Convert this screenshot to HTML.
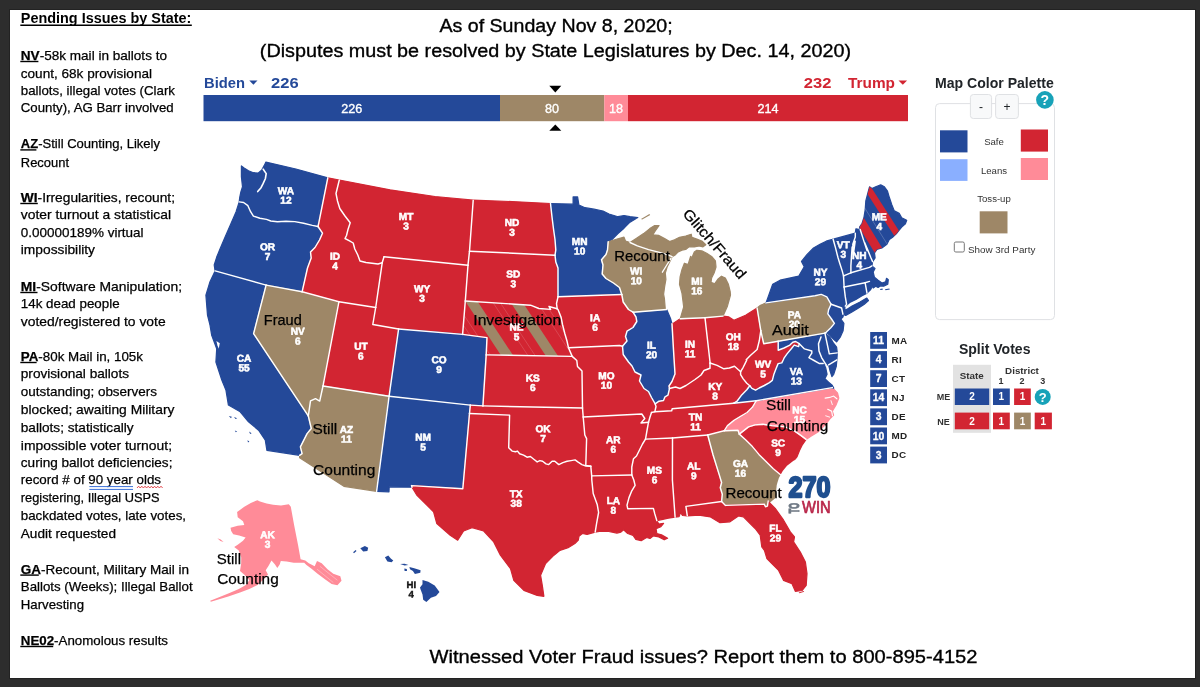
<!DOCTYPE html>
<html lang="en"><head><meta charset="utf-8"><title>Pending Issues by State</title>
<style>
html,body{margin:0;padding:0}
body{width:1200px;height:687px;background:#2d2d2d;overflow:hidden;position:relative;font-family:"Liberation Sans",sans-serif}
#slide{position:absolute;left:10px;top:10px;width:1185px;height:668px;background:#fff;box-shadow:0 0 0 1px #222}
svg{position:absolute;left:0;top:0;will-change:transform}
text{font-family:"Liberation Sans",sans-serif}
.b{font-weight:bold}
.lbl{font-weight:bold;font-size:10.1px;fill:#fff;text-anchor:middle;stroke:#fff;stroke-width:0.55px}
.ann{font-size:14.7px;fill:#000;stroke:#000;stroke-width:0.25px}
.body{font-size:13.2px;fill:#000;stroke:#000;stroke-width:0.25px}
.hd{font-size:18.8px;fill:#000;stroke:#000;stroke-width:0.35px}
</style></head><body>
<div id="slide"></div>
<svg width="1200" height="687" viewBox="0 0 1200 687">

<text x="20.8" y="23" class="b" font-size="14.3" textLength="170.6" lengthAdjust="spacingAndGlyphs">Pending Issues by State:</text>
<rect x="20.3" y="24.5" width="171.5" height="1.5" fill="#000"/>
<text x="20.8" y="60" class="body" textLength="146.2" lengthAdjust="spacingAndGlyphs"><tspan class="b">NV</tspan>-58k mail in ballots to</text>
<rect x="20.3" y="60.8" width="18.099999999999998" height="1.4" fill="#000"/>
<text x="20.8" y="78" class="body" textLength="131.2" lengthAdjust="spacingAndGlyphs">count, 68k provisional</text>
<text x="20.8" y="95" class="body" textLength="154.2" lengthAdjust="spacingAndGlyphs">ballots, illegal votes (Clark</text>
<text x="20.8" y="112.4" class="body" textLength="152.8" lengthAdjust="spacingAndGlyphs">County), AG Barr involved</text>
<text x="20.8" y="148.4" class="body" textLength="139.2" lengthAdjust="spacingAndGlyphs"><tspan class="b">AZ</tspan>-Still Counting, Likely</text>
<rect x="20.3" y="149.2" width="16.099999999999998" height="1.4" fill="#000"/>
<text x="20.8" y="166.6" class="body" textLength="48.2" lengthAdjust="spacingAndGlyphs">Recount</text>
<text x="20.8" y="202" class="body" textLength="154.2" lengthAdjust="spacingAndGlyphs"><tspan class="b">WI</tspan>-Irregularities, recount;</text>
<rect x="20.3" y="202.8" width="17.5" height="1.4" fill="#000"/>
<text x="20.8" y="219" class="body" textLength="150.2" lengthAdjust="spacingAndGlyphs">voter turnout a statistical</text>
<text x="20.8" y="237" class="body" textLength="122.8" lengthAdjust="spacingAndGlyphs">0.00000189% virtual</text>
<text x="20.8" y="254.4" class="body" textLength="74.2" lengthAdjust="spacingAndGlyphs">impossibility</text>
<text x="20.8" y="291" class="body" textLength="161.2" lengthAdjust="spacingAndGlyphs"><tspan class="b">MI</tspan>-Software Manipulation;</text>
<rect x="20.3" y="291.8" width="17.2" height="1.4" fill="#000"/>
<text x="20.8" y="308" class="body" textLength="98.8" lengthAdjust="spacingAndGlyphs">14k dead people</text>
<text x="20.8" y="325.6" class="body" textLength="144.8" lengthAdjust="spacingAndGlyphs">voted/registered to vote</text>
<text x="20.8" y="361" class="body" textLength="122.2" lengthAdjust="spacingAndGlyphs"><tspan class="b">PA</tspan>-80k Mail in, 105k</text>
<rect x="20.3" y="361.8" width="16.3" height="1.4" fill="#000"/>
<text x="20.8" y="378.4" class="body" textLength="108.2" lengthAdjust="spacingAndGlyphs">provisional ballots</text>
<text x="20.8" y="396" class="body" textLength="136.2" lengthAdjust="spacingAndGlyphs">outstanding; observers</text>
<text x="20.8" y="414" class="body" textLength="153.6" lengthAdjust="spacingAndGlyphs">blocked; awaiting Military</text>
<text x="20.8" y="432.4" class="body" textLength="112.8" lengthAdjust="spacingAndGlyphs">ballots; statistically</text>
<text x="20.8" y="450" class="body" textLength="151.2" lengthAdjust="spacingAndGlyphs">impossible voter turnout;</text>
<text x="20.8" y="467.4" class="body" textLength="151.6" lengthAdjust="spacingAndGlyphs">curing ballot deficiencies;</text>
<text x="20.8" y="484.4" class="body" textLength="140.2" lengthAdjust="spacingAndGlyphs">record # of 90 year olds</text>
<text x="20.8" y="502.4" class="body" textLength="138.8" lengthAdjust="spacingAndGlyphs">registering, Illegal USPS</text>
<text x="20.8" y="520" class="body" textLength="165.2" lengthAdjust="spacingAndGlyphs">backdated votes, late votes,</text>
<text x="20.8" y="538" class="body" textLength="95.2" lengthAdjust="spacingAndGlyphs">Audit requested</text>
<text x="20.8" y="573.6" class="body" textLength="168.2" lengthAdjust="spacingAndGlyphs"><tspan class="b">GA</tspan>-Recount, Military Mail in</text>
<rect x="20.3" y="574.4" width="18.5" height="1.4" fill="#000"/>
<text x="20.8" y="591.4" class="body" textLength="171.8" lengthAdjust="spacingAndGlyphs">Ballots (Weeks); Illegal Ballot</text>
<text x="20.8" y="609.4" class="body" textLength="63.2" lengthAdjust="spacingAndGlyphs">Harvesting</text>
<text x="20.8" y="645" class="body" textLength="147.2" lengthAdjust="spacingAndGlyphs"><tspan class="b">NE02</tspan>-Anomolous results</text>
<rect x="20.3" y="645.8" width="32.9" height="1.4" fill="#000"/>
<path d="M89.4 486.6H133M89.4 489.4H133" stroke="#3a6fd8" stroke-width="1" fill="none"/>
<path d="M137 488 l1.6 -1.8 l1.6 1.8 l1.6 -1.8 l1.6 1.8 l1.6 -1.8 l1.6 1.8 l1.6 -1.8 l1.6 1.8 l1.6 -1.8 l1.6 1.8 l1.6 -1.8 l1.6 1.8 l1.6 -1.8 l1.6 1.8 l1.6 -1.8 l1.6 1.8" stroke="#e0383e" stroke-width="0.9" fill="none"/>
<text x="439.4" y="32" class="hd" textLength="233.3" lengthAdjust="spacingAndGlyphs">As of Sunday Nov 8, 2020;</text>
<text x="259.8" y="56.7" class="hd" textLength="591.2" lengthAdjust="spacingAndGlyphs">(Disputes must be resolved by State Legislatures by Dec. 14, 2020)</text>
<text x="429.5" y="662.5" class="hd" textLength="548" lengthAdjust="spacingAndGlyphs">Witnessed Voter Fraud issues? Report them to 800-895-4152</text>
<g>
<rect x="203.5" y="95" width="296.5" height="26.2" fill="#244999"/>
<rect x="500" y="95" width="104.3" height="26.2" fill="#9E8767"/>
<rect x="604.3" y="95" width="23.7" height="26.2" fill="#FF8B98"/>
<rect x="628" y="95" width="280" height="26.2" fill="#D22532"/>
<text x="351.7" y="112.7" font-size="12.6" fill="#fff" stroke="#fff" stroke-width="0.35" text-anchor="middle">226</text>
<text x="552" y="112.7" font-size="12.6" fill="#fff" stroke="#fff" stroke-width="0.35" text-anchor="middle">80</text>
<text x="616" y="112.7" font-size="12.6" fill="#fff" stroke="#fff" stroke-width="0.35" text-anchor="middle">18</text>
<text x="768" y="112.7" font-size="12.6" fill="#fff" stroke="#fff" stroke-width="0.35" text-anchor="middle">214</text>
<path d="M549.3 85.8h12l-6 6.6z" fill="#000"/><path d="M549.3 130.8h12l-6 -6.4z" fill="#000"/>
<text x="204" y="88" class="b" font-size="14.8" fill="#244999" textLength="41" lengthAdjust="spacingAndGlyphs">Biden</text>
<path d="M249.3 80.4h8.2l-4.1 4.3z" fill="#244999"/>
<text x="271" y="88" class="b" font-size="14.8" fill="#244999" textLength="27.6" lengthAdjust="spacingAndGlyphs">226</text>
<text x="803.8" y="88" class="b" font-size="14.8" fill="#D22532" textLength="27.6" lengthAdjust="spacingAndGlyphs">232</text>
<text x="848" y="88" class="b" font-size="14.8" fill="#D22532" textLength="47" lengthAdjust="spacingAndGlyphs">Trump</text>
<path d="M898.5 80.4h8.6l-4.3 4.3z" fill="#D22532"/>
</g>
<g>
<text x="935" y="88" class="b" font-size="14.4" fill="#212529" textLength="118.8" lengthAdjust="spacingAndGlyphs">Map Color Palette</text>
<rect x="935.5" y="103.6" width="119" height="216" rx="4" fill="#fff" stroke="#dfe1e4" stroke-width="1"/>
<rect x="970.4" y="94.5" width="21.2" height="24" rx="3" fill="#f8f9fa" stroke="#dfe1e4" stroke-width="1"/>
<rect x="995.6" y="94.5" width="22.8" height="24" rx="3" fill="#f8f9fa" stroke="#dfe1e4" stroke-width="1"/>
<text x="981" y="111" font-size="12" fill="#212529" text-anchor="middle">-</text>
<text x="1007" y="111.3" font-size="12" fill="#212529" text-anchor="middle">+</text>
<circle cx="1044.9" cy="99.9" r="8.8" fill="#17a2b8"/>
<text x="1044.9" y="105" class="b" font-size="14" fill="#fff" text-anchor="middle">?</text>
<rect x="940" y="130.3" width="27.5" height="22.1" fill="#244999"/>
<rect x="1020.8" y="129.5" width="27.2" height="22.1" fill="#D22532"/>
<rect x="940" y="159.2" width="27.5" height="21.7" fill="#8AAFFF"/>
<rect x="1020.8" y="158" width="27.2" height="22" fill="#FF8B98"/>
<text x="994" y="145" font-size="9.6" fill="#333" text-anchor="middle">Safe</text>
<text x="994" y="173.8" font-size="9.6" fill="#333" text-anchor="middle">Leans</text>
<text x="994" y="202.4" font-size="9.6" fill="#333" text-anchor="middle">Toss-up</text>
<rect x="979.7" y="211.3" width="27.8" height="22.1" fill="#9E8767"/>
<rect x="954.3" y="242" width="10" height="10" rx="1.5" fill="#fff" stroke="#767676" stroke-width="1"/>
<text x="968" y="252.8" font-size="9.4" fill="#333" textLength="67.3" lengthAdjust="spacingAndGlyphs">Show 3rd Party</text>
</g>
<g>
<text x="958.9" y="354.1" class="b" font-size="14.4" fill="#212529" textLength="71.6" lengthAdjust="spacingAndGlyphs">Split Votes</text>
<rect x="953" y="364.8" width="38" height="68" fill="#e2e2e2"/>
<text x="971.7" y="378.8" class="b" font-size="9.8" fill="#333" text-anchor="middle">State</text>
<text x="1022" y="373.5" class="b" font-size="9.8" fill="#333" text-anchor="middle">District</text>
<text x="1001" y="383.8" class="b" font-size="9" fill="#333" text-anchor="middle">1</text>
<text x="1022" y="383.8" class="b" font-size="9" fill="#333" text-anchor="middle">2</text>
<text x="1042.7" y="383.8" class="b" font-size="9" fill="#333" text-anchor="middle">3</text>
<text x="943.5" y="400.4" class="b" font-size="9" fill="#333" text-anchor="middle">ME</text>
<text x="943.5" y="424.7" class="b" font-size="9" fill="#333" text-anchor="middle">NE</text>
<rect x="954.8" y="388.5" width="34.4" height="16.5" fill="#244999"/>
<text x="972.0" y="400.4" class="b" font-size="10" fill="#fff" text-anchor="middle">2</text>
<rect x="993" y="388.5" width="16.8" height="16.5" fill="#244999"/>
<text x="1001.4" y="400.4" class="b" font-size="10" fill="#fff" text-anchor="middle">1</text>
<rect x="1014.1" y="388.5" width="16.7" height="16.5" fill="#D22532"/>
<text x="1022.5" y="400.4" class="b" font-size="10" fill="#fff" text-anchor="middle">1</text>
<circle cx="1042.7" cy="396.9" r="8" fill="#17a2b8"/><text x="1042.7" y="401.6" class="b" font-size="13" fill="#fff" text-anchor="middle">?</text>
<rect x="954.8" y="412.6" width="34.4" height="16.7" fill="#D22532"/>
<text x="972.0" y="424.6" class="b" font-size="10" fill="#fff" text-anchor="middle">2</text>
<rect x="993" y="412.6" width="16.8" height="16.7" fill="#D22532"/>
<text x="1001.4" y="424.6" class="b" font-size="10" fill="#fff" text-anchor="middle">1</text>
<rect x="1014.1" y="412.6" width="16.7" height="16.7" fill="#9E8767"/>
<text x="1022.5" y="424.6" class="b" font-size="10" fill="#fff" text-anchor="middle">1</text>
<rect x="1034.7" y="412.6" width="17.2" height="16.7" fill="#D22532"/>
<text x="1043.3" y="424.6" class="b" font-size="10" fill="#fff" text-anchor="middle">1</text>
</g>
<g>
<rect x="870.2" y="332.0" width="16.8" height="16.8" fill="#244999"/>
<text x="878.6" y="344.0" class="b" font-size="10.4" fill="#fff" stroke="#fff" stroke-width="0.3" text-anchor="middle">11</text>
<text x="891.5" y="343.8" class="b" font-size="9.9" fill="#222" letter-spacing="0.3">MA</text>
<rect x="870.2" y="351.1" width="16.8" height="16.8" fill="#244999"/>
<text x="878.6" y="363.1" class="b" font-size="10.4" fill="#fff" stroke="#fff" stroke-width="0.3" text-anchor="middle">4</text>
<text x="891.5" y="362.9" class="b" font-size="9.9" fill="#222" letter-spacing="0.3">RI</text>
<rect x="870.2" y="370.2" width="16.8" height="16.8" fill="#244999"/>
<text x="878.6" y="382.2" class="b" font-size="10.4" fill="#fff" stroke="#fff" stroke-width="0.3" text-anchor="middle">7</text>
<text x="891.5" y="382.0" class="b" font-size="9.9" fill="#222" letter-spacing="0.3">CT</text>
<rect x="870.2" y="389.3" width="16.8" height="16.8" fill="#244999"/>
<text x="878.6" y="401.3" class="b" font-size="10.4" fill="#fff" stroke="#fff" stroke-width="0.3" text-anchor="middle">14</text>
<text x="891.5" y="401.1" class="b" font-size="9.9" fill="#222" letter-spacing="0.3">NJ</text>
<rect x="870.2" y="408.4" width="16.8" height="16.8" fill="#244999"/>
<text x="878.6" y="420.4" class="b" font-size="10.4" fill="#fff" stroke="#fff" stroke-width="0.3" text-anchor="middle">3</text>
<text x="891.5" y="420.2" class="b" font-size="9.9" fill="#222" letter-spacing="0.3">DE</text>
<rect x="870.2" y="427.5" width="16.8" height="16.8" fill="#244999"/>
<text x="878.6" y="439.5" class="b" font-size="10.4" fill="#fff" stroke="#fff" stroke-width="0.3" text-anchor="middle">10</text>
<text x="891.5" y="439.3" class="b" font-size="9.9" fill="#222" letter-spacing="0.3">MD</text>
<rect x="870.2" y="446.6" width="16.8" height="16.8" fill="#244999"/>
<text x="878.6" y="458.6" class="b" font-size="10.4" fill="#fff" stroke="#fff" stroke-width="0.3" text-anchor="middle">3</text>
<text x="891.5" y="458.4" class="b" font-size="9.9" fill="#222" letter-spacing="0.3">DC</text>
</g>
<defs>
<clipPath id="clipNE"><path d="M465.3 301.0 L530.5 305.2 L538.9 308.5 L550.6 309.4 L549.0 306.5 L557.2 308.8 L558.0 309.5 L561.0 317.0 L562.5 324.5 L564.8 333.5 L567.0 341.0 L568.5 347.8 L572.2 356.4 L486.2 354.9 L487.0 337.6 L462.6 334.4 L465.3 301.0Z"/></clipPath>
<clipPath id="clipME"><path d="M860.2 229.5 L859.6 227.0 L862.1 223.3 L864.0 217.1 L865.2 209.7 L865.8 201.0 L867.7 193.6 L869.5 186.8 L872.0 188.6 L875.7 186.8 L880.7 184.9 L884.4 186.8 L887.5 191.1 L889.3 197.3 L891.8 204.7 L894.3 210.9 L899.2 213.4 L901.7 217.7 L906.7 220.2 L905.4 223.9 L901.7 227.0 L899.2 230.1 L896.8 233.2 L893.0 236.9 L889.3 239.4 L886.9 244.3 L881.9 248.0 L876.9 249.3 L874.5 253.0 L875.1 257.9 L872.6 261.6 L870.7 257.3 L868.2 251.1 L864.5 242.4 L867.0 250.5 L863.3 239.4 L860.2 229.5Z"/></clipPath>
</defs>
<g stroke-width="1.2" stroke-linejoin="round">
<path d="M239.2 201.9 L239.7 197.6 L240.8 192.1 L242.5 186.7 L241.4 176.8 L241.4 165.9 L244.1 167.9 L248.5 170.8 L253.4 172.7 L258.3 173.0 L261.6 170.3 L264.3 165.4 L265.9 162.1 L295.9 169.0 L327.8 177.8 L318.8 222.8 L318.0 226.5 L312.3 225.4 L303.6 223.2 L294.8 221.6 L286.1 221.3 L277.4 221.8 L270.8 221.0 L266.5 219.4 L259.9 218.3 L253.4 216.1 L250.6 211.7 L247.9 205.7 L243.6 202.5 L239.2 201.9Z" fill="#244999" stroke="#244999"/>
<path d="M239.2 201.9 L243.6 202.5 L247.9 205.7 L250.6 211.7 L253.4 216.1 L259.9 218.3 L266.5 219.4 L270.8 221.0 L277.4 221.8 L286.1 221.3 L294.8 221.6 L303.6 223.2 L312.3 225.4 L318.0 226.5 L322.5 233.2 L319.5 240.0 L315.0 247.5 L310.5 252.0 L311.2 258.0 L307.5 268.0 L302.1 291.8 L266.1 285.1 L215.1 270.9 L214.2 265.0 L216.7 257.1 L220.1 248.7 L225.1 237.0 L231.0 223.6 L236.0 211.9 L239.2 201.9Z" fill="#244999" stroke="#244999"/>
<path d="M215.1 270.9 L266.1 285.1 L253.6 333.6 L308.3 415.8 L309.1 419.3 L311.3 428.5 L307.1 433.6 L303.8 440.2 L300.4 446.9 L302.1 453.6 L299.6 455.3 L266.9 450.3 L265.3 440.2 L258.6 430.2 L248.5 421.8 L240.2 411.8 L228.4 405.1 L225.9 390.0 L221.8 380.0 L215.9 362.1 L216.7 348.7 L211.7 335.3 L210.0 325.2 L207.5 315.2 L206.7 305.2 L205.9 295.1 L210.0 281.7 L215.1 270.9Z" fill="#244999" stroke="#244999"/>
<path d="M266.1 285.1 L302.1 291.8 L338.9 301.8 L323.0 386.0 L319.7 401.1 L315.5 398.7 L310.5 400.9 L308.3 415.8 L253.6 333.6 L266.1 285.1Z" fill="#9E8767" stroke="#9E8767"/>
<path d="M327.8 177.8 L339.3 180.0 L336.0 193.5 L337.5 201.0 L339.8 208.5 L345.0 216.0 L350.2 222.8 L348.0 229.5 L346.5 235.5 L345.0 238.5 L349.5 240.8 L353.2 243.0 L354.8 249.0 L357.8 255.0 L360.0 261.0 L366.0 262.5 L372.0 263.2 L378.0 264.0 L382.2 262.8 L375.7 307.5 L338.9 301.8 L302.1 291.8 L307.5 268.0 L311.2 258.0 L310.5 252.0 L315.0 247.5 L319.5 240.0 L322.5 233.2 L318.0 226.5 L318.8 222.8 L327.8 177.8Z" fill="#D22532" stroke="#D22532"/>
<path d="M339.3 180.0 L390.0 189.8 L435.0 196.5 L473.2 200.2 L469.5 251.2 L468.0 265.2 L384.0 256.8 L382.2 262.8 L378.0 264.0 L372.0 263.2 L366.0 262.5 L360.0 261.0 L357.8 255.0 L354.8 249.0 L353.2 243.0 L349.5 240.8 L345.0 238.5 L346.5 235.5 L348.0 229.5 L350.2 222.8 L345.0 216.0 L339.8 208.5 L337.5 201.0 L336.0 193.5 L339.3 180.0Z" fill="#D22532" stroke="#D22532"/>
<path d="M384.0 256.8 L468.0 265.2 L465.3 301.0 L462.6 334.4 L398.6 329.0 L372.8 324.5 L375.7 307.5 L382.2 262.8 L384.0 256.8Z" fill="#D22532" stroke="#D22532"/>
<path d="M338.9 301.8 L375.7 307.5 L372.8 324.5 L398.6 329.0 L389.1 396.2 L323.0 386.0 L338.9 301.8Z" fill="#D22532" stroke="#D22532"/>
<path d="M398.6 329.0 L462.6 334.4 L487.0 337.6 L486.2 354.9 L482.9 405.9 L470.3 405.1 L389.1 396.2 L398.6 329.0Z" fill="#244999" stroke="#244999"/>
<path d="M323.0 386.0 L389.1 396.2 L376.6 491.3 L343.9 486.3 L299.6 457.8 L299.6 455.3 L302.1 453.6 L300.4 446.9 L303.8 440.2 L307.1 433.6 L311.3 428.5 L309.1 419.3 L308.3 415.8 L310.5 400.9 L315.5 398.7 L319.7 401.1 L323.0 386.0Z" fill="#9E8767" stroke="#9E8767"/>
<path d="M389.1 396.2 L470.3 405.1 L469.5 413.5 L462.8 488.8 L411.5 485.6 L412.0 487.2 L389.2 486.8 L389.0 491.8 L376.6 491.3 L389.1 396.2Z" fill="#244999" stroke="#244999"/>
<path d="M473.2 200.2 L512.1 201.6 L550.5 203.5 L552.0 217.0 L553.5 229.0 L555.0 239.5 L555.8 250.0 L555.0 255.2 L469.5 251.2 L473.2 200.2Z" fill="#D22532" stroke="#D22532"/>
<path d="M469.5 251.2 L555.0 255.2 L555.8 262.0 L558.0 268.0 L558.0 293.0 L558.0 296.8 L556.5 303.5 L557.2 308.8 L549.0 306.5 L550.6 309.4 L538.9 308.5 L530.5 305.2 L465.3 301.0 L468.0 265.2 L469.5 251.2Z" fill="#D22532" stroke="#D22532"/>
<path d="M465.3 301.0 L530.5 305.2 L538.9 308.5 L550.6 309.4 L549.0 306.5 L557.2 308.8 L558.0 309.5 L561.0 317.0 L562.5 324.5 L564.8 333.5 L567.0 341.0 L568.5 347.8 L572.2 356.4 L486.2 354.9 L487.0 337.6 L462.6 334.4 L465.3 301.0Z" fill="#D22532" stroke="#D22532"/>
<path d="M486.2 354.9 L572.2 356.4 L576.8 360.5 L577.5 366.5 L582.0 371.0 L582.5 408.0 L482.9 405.9 L486.2 354.9Z" fill="#D22532" stroke="#D22532"/>
<path d="M482.9 405.9 L582.5 408.0 L583.2 417.0 L584.8 435.0 L586.6 438.6 L585.8 465.4 L590.8 466.2 L585.9 466.0 L581.9 464.6 L577.8 461.9 L575.1 459.9 L571.0 460.6 L567.0 461.2 L562.9 462.6 L558.8 464.6 L554.8 461.2 L552.1 461.2 L548.7 464.6 L546.0 463.9 L542.6 461.2 L539.9 460.6 L537.2 461.9 L533.8 459.2 L530.4 456.5 L527.0 457.2 L523.6 455.1 L519.6 453.8 L517.5 451.1 L515.5 451.8 L512.1 451.1 L508.7 447.7 L509.6 415.1 L469.5 413.5 L470.3 405.1 L482.9 405.9Z" fill="#D22532" stroke="#D22532"/>
<path d="M469.5 413.5 L509.6 415.1 L508.7 447.7 L512.1 451.1 L515.5 451.8 L517.5 451.1 L519.6 453.8 L523.6 455.1 L527.0 457.2 L530.4 456.5 L533.8 459.2 L537.2 461.9 L539.9 460.6 L542.6 461.2 L546.0 463.9 L548.7 464.6 L552.1 461.2 L554.8 461.2 L558.8 464.6 L562.9 462.6 L567.0 461.2 L571.0 460.6 L575.1 459.9 L577.8 461.9 L581.9 464.6 L585.9 466.0 L590.8 466.2 L591.7 475.9 L591.8 480.0 L593.2 493.5 L597.2 504.4 L598.6 512.5 L596.6 523.3 L595.2 532.1 L587.1 534.4 L582.3 533.5 L579.0 536.2 L578.3 540.2 L574.9 543.6 L568.1 547.7 L560.0 550.4 L554.0 555.2 L545.6 563.6 L540.6 575.3 L542.3 585.4 L543.9 596.3 L537.2 595.4 L523.9 590.4 L513.8 580.4 L510.5 568.6 L500.4 555.2 L493.7 541.9 L483.7 531.0 L472.0 527.6 L463.6 531.0 L457.7 540.2 L450.2 535.2 L436.8 523.5 L433.5 511.7 L416.7 495.0 L412.0 487.2 L411.5 485.6 L462.8 488.8 L469.5 413.5Z" fill="#D22532" stroke="#D22532"/>
<path d="M550.5 203.5 L573.1 204.2 L573.1 196.9 L577.6 196.9 L578.9 205.0 L585.0 207.7 L594.0 209.2 L603.0 211.0 L609.0 214.0 L618.0 216.7 L624.0 215.5 L630.0 216.7 L637.8 217.6 L630.0 222.2 L624.0 228.2 L618.0 233.5 L612.0 239.5 L608.2 241.8 L607.5 250.0 L606.0 254.5 L601.5 259.8 L603.0 265.0 L602.2 274.0 L606.0 278.5 L613.5 283.0 L619.5 287.5 L621.8 294.5 L558.0 296.8 L558.0 293.0 L558.0 268.0 L555.8 262.0 L555.0 255.2 L555.8 250.0 L555.0 239.5 L553.5 229.0 L552.0 217.0 L550.5 203.5Z" fill="#244999" stroke="#244999"/>
<path d="M558.0 296.8 L621.8 294.5 L623.2 302.0 L628.5 309.5 L633.0 312.2 L636.0 317.0 L636.8 321.5 L633.0 327.5 L627.0 331.2 L625.5 336.5 L627.0 341.0 L622.5 346.2 L619.5 345.5 L568.5 347.8 L567.0 341.0 L564.8 333.5 L562.5 324.5 L561.0 317.0 L558.0 309.5 L557.2 308.8 L556.5 303.5 L558.0 296.8Z" fill="#D22532" stroke="#D22532"/>
<path d="M568.5 347.8 L619.5 345.5 L622.5 346.2 L623.2 354.5 L628.5 362.0 L632.0 366.0 L635.0 372.0 L641.0 375.0 L639.5 381.0 L644.0 388.5 L648.5 391.5 L651.5 397.5 L655.2 403.9 L656.0 406.5 L654.8 411.8 L651.5 412.5 L650.0 417.0 L648.5 422.2 L641.0 423.0 L644.8 418.5 L641.8 414.0 L583.2 417.0 L582.5 408.0 L582.0 371.0 L577.5 366.5 L576.8 360.5 L572.2 356.4 L568.5 347.8Z" fill="#D22532" stroke="#D22532"/>
<path d="M583.2 417.0 L641.8 414.0 L644.8 418.5 L641.0 423.0 L648.5 422.2 L647.0 430.5 L645.5 439.1 L642.5 444.0 L639.5 450.0 L636.5 456.0 L633.5 458.7 L631.8 467.0 L631.8 475.0 L591.7 475.9 L590.8 466.2 L585.8 465.4 L586.6 438.6 L584.8 435.0 L583.2 417.0Z" fill="#D22532" stroke="#D22532"/>
<path d="M591.7 475.9 L631.8 475.0 L633.8 480.0 L635.1 485.4 L631.8 490.8 L629.0 497.6 L627.0 505.1 L627.7 508.7 L653.4 508.4 L654.8 513.9 L656.8 520.6 L658.8 524.0 L663.6 523.3 L660.9 526.7 L656.1 528.7 L656.8 533.5 L661.5 534.8 L667.6 538.2 L664.2 539.8 L658.8 536.9 L653.4 535.8 L650.0 538.5 L646.6 537.5 L641.2 540.7 L635.8 539.3 L633.1 535.5 L627.7 533.5 L623.6 529.8 L620.9 532.1 L616.9 533.1 L608.7 531.5 L600.6 531.2 L595.2 532.1 L596.6 523.3 L598.6 512.5 L597.2 504.4 L593.2 493.5 L591.8 480.0 L591.7 475.9Z" fill="#D22532" stroke="#D22532"/>
<path d="M645.5 439.1 L672.5 438.0 L672.4 480.0 L675.1 517.2 L668.3 518.2 L662.9 519.3 L656.8 520.6 L654.8 513.9 L653.4 508.4 L627.7 508.7 L627.0 505.1 L629.0 497.6 L631.8 490.8 L635.1 485.4 L633.8 480.0 L631.8 475.0 L631.8 467.0 L633.5 458.7 L636.5 456.0 L639.5 450.0 L642.5 444.0 L645.5 439.1Z" fill="#D22532" stroke="#D22532"/>
<path d="M672.5 438.0 L707.7 435.0 L713.1 455.0 L719.6 475.9 L721.6 482.5 L720.3 487.7 L722.3 494.3 L721.6 501.5 L685.9 506.4 L687.3 515.9 L682.5 515.5 L680.5 512.5 L679.1 516.6 L675.1 517.2 L672.4 480.0 L672.5 438.0Z" fill="#D22532" stroke="#D22532"/>
<path d="M707.7 435.0 L724.2 430.8 L738.0 430.2 L739.3 434.1 L745.8 440.0 L752.4 446.6 L758.9 454.4 L765.5 461.0 L773.3 468.8 L780.5 474.8 L780.3 480.0 L778.5 489.0 L774.5 498.0 L768.5 503.0 L768.2 501.0 L768.1 501.5 L767.4 506.1 L765.5 506.7 L764.2 504.1 L725.5 505.4 L721.6 501.5 L722.3 494.3 L720.3 487.7 L721.6 482.5 L719.6 475.9 L713.1 455.0 L707.7 435.0Z" fill="#9E8767" stroke="#9E8767"/>
<path d="M721.6 501.5 L725.5 505.4 L764.2 504.1 L765.5 506.7 L767.4 506.1 L768.1 501.5 L768.2 501.0 L768.5 501.8 L775.2 508.4 L783.6 520.2 L790.3 531.9 L794.5 536.9 L793.6 541.9 L800.3 552.0 L805.4 562.0 L807.0 573.7 L806.2 585.4 L802.0 590.5 L795.3 591.3 L792.0 583.8 L783.6 580.4 L778.6 570.4 L773.6 565.4 L766.9 558.7 L764.4 550.3 L761.8 547.0 L760.2 535.2 L755.1 528.5 L750.1 523.5 L743.4 516.8 L738.4 516.0 L730.0 521.8 L720.0 522.7 L710.5 516.9 L698.8 515.2 L687.3 515.9 L685.9 506.4 L721.6 501.5Z" fill="#D22532" stroke="#D22532"/>
<path d="M739.3 434.1 L748.5 426.9 L755.0 424.9 L762.9 424.3 L772.0 425.6 L785.1 426.9 L794.3 430.8 L800.8 435.4 L806.1 439.4 L802.1 445.2 L799.5 450.5 L796.9 457.0 L791.7 463.6 L786.4 470.1 L780.5 474.8 L773.3 468.8 L765.5 461.0 L758.9 454.4 L752.4 446.6 L745.8 440.0 L739.3 434.1Z" fill="#D22532" stroke="#D22532"/>
<path d="M756.3 400.7 L752.4 407.3 L747.1 412.5 L740.6 416.4 L734.0 420.4 L727.5 425.6 L724.2 430.8 L756.3 400.7 L832.3 387.6 L837.5 392.9 L838.8 398.1 L836.2 404.6 L832.3 411.2 L833.6 415.1 L829.6 419.1 L825.7 424.3 L817.9 432.1 L811.3 436.1 L806.1 439.4 L800.8 435.4 L794.3 430.8 L785.1 426.9 L772.0 425.6 L762.9 424.3 L755.0 424.9 L748.5 426.9 L739.3 434.1 L738.0 430.2 L724.2 430.8Z" fill="#FF8B98" stroke="#FF8B98"/>
<path d="M654.8 411.8 L671.7 410.7 L672.2 408.8 L733.7 403.3 L756.3 400.7 L752.4 407.3 L747.1 412.5 L740.6 416.4 L734.0 420.4 L727.5 425.6 L724.2 430.8 L707.7 435.0 L672.5 438.0 L645.5 439.1 L647.0 430.5 L648.5 422.2 L650.0 417.0 L651.5 412.5Z" fill="#D22532" stroke="#D22532"/>
<path d="M655.2 403.9 L659.0 401.2 L663.5 400.5 L665.0 396.8 L668.0 395.2 L669.5 388.5 L675.5 387.0 L680.0 388.5 L686.0 385.5 L690.5 382.5 L695.0 379.5 L701.0 375.0 L704.0 370.5 L710.0 368.2 L710.0 363.0 L717.1 365.4 L723.9 368.8 L729.4 368.0 L734.5 366.2 L738.1 369.5 L740.6 371.6 L740.6 374.6 L743.2 378.9 L746.8 383.3 L749.8 385.8 L746.8 389.8 L741.7 394.9 L737.4 400.8 L733.7 403.3 L672.2 408.8 L671.7 410.7 L654.8 411.8 L651.5 412.5 L654.8 411.8 L656.0 406.5 L655.2 403.9Z" fill="#D22532" stroke="#D22532"/>
<path d="M633.0 312.2 L666.7 309.5 L670.5 318.5 L672.0 323.8 L673.5 350.0 L675.0 374.0 L672.0 381.5 L669.0 386.0 L669.5 388.5 L668.0 395.2 L665.0 396.8 L663.5 400.5 L659.0 401.2 L655.2 403.9 L651.5 397.5 L648.5 391.5 L644.0 388.5 L639.5 381.0 L641.0 375.0 L635.0 372.0 L632.0 366.0 L628.5 362.0 L623.2 354.5 L622.5 346.2 L627.0 341.0 L625.5 336.5 L627.0 331.2 L633.0 327.5 L636.8 321.5 L636.0 317.0 L633.0 312.2Z" fill="#244999" stroke="#244999"/>
<path d="M672.0 323.8 L674.2 322.7 L680.2 318.8 L705.0 317.8 L710.2 363.5 L710.0 363.0 L710.0 368.2 L704.0 370.5 L701.0 375.0 L695.0 379.5 L690.5 382.5 L686.0 385.5 L680.0 388.5 L675.5 387.0 L669.5 388.5 L669.0 386.0 L672.0 381.5 L675.0 374.0 L673.5 350.0 L672.0 323.8Z" fill="#D22532" stroke="#D22532"/>
<path d="M705.0 317.8 L723.0 316.1 L728.9 316.9 L733.9 320.2 L745.6 315.2 L757.1 308.0 L760.8 330.6 L759.3 340.8 L757.1 349.5 L750.6 355.3 L746.2 359.7 L746.8 360.0 L745.4 362.9 L743.2 367.3 L740.6 371.6 L738.1 369.5 L734.5 366.2 L729.4 368.0 L723.9 368.8 L717.1 365.4 L710.0 363.0 L710.2 363.5 L705.0 317.8Z" fill="#D22532" stroke="#D22532"/>
<path d="M760.8 330.6 L763.7 343.7 L778.2 341.2 L778.2 344.4 L778.2 350.2 L784.0 348.0 L789.9 345.1 L792.8 342.2 L795.7 341.5 L799.3 343.7 L798.6 346.6 L794.2 345.1 L791.3 348.8 L787.0 353.9 L784.0 358.2 L783.2 360.0 L781.8 362.9 L778.1 363.6 L776.0 368.7 L773.8 374.6 L772.3 380.4 L769.4 382.6 L764.3 385.5 L759.2 388.0 L755.6 390.2 L751.9 388.4 L749.8 385.8 L746.8 383.3 L743.2 378.9 L740.6 374.6 L740.6 371.6 L743.2 367.3 L745.4 362.9 L746.8 360.0 L746.2 359.7 L750.6 355.3 L757.1 349.5 L759.3 340.8 L760.8 330.6Z" fill="#D22532" stroke="#D22532"/>
<path d="M799.3 343.7 L804.5 348.9 L811.8 351.0 L811.8 353.2 L808.9 357.6 L814.0 360.5 L819.1 363.4 L823.2 363.4 L824.2 364.9 L825.7 367.8 L827.1 374.3 L824.9 378.7 L828.6 382.3 L832.2 385.2 L833.7 388.1 L832.3 387.6 L756.3 400.7 L733.7 403.3 L737.4 400.8 L741.7 394.9 L746.8 389.8 L749.8 385.8 L751.9 388.4 L755.6 390.2 L759.2 388.0 L764.3 385.5 L769.4 382.6 L772.3 380.4 L773.8 374.6 L776.0 368.7 L778.1 363.6 L781.8 362.9 L783.2 360.0 L784.0 358.2 L787.0 353.9 L791.3 348.8 L794.2 345.1 L798.6 346.6 L799.3 343.7Z" fill="#244999" stroke="#244999"/>
<path d="M828.6 364.9 L836.9 359.8 L836.3 366.3 L833.7 374.3 L831.9 376.5 L830.0 370.7Z" fill="#244999" stroke="#244999"/>
<path d="M778.2 341.2 L824.9 333.1 L829.3 353.9 L837.3 352.9 L836.9 359.8 L828.6 364.9 L826.4 364.9 L823.2 363.4 L819.1 363.4 L814.0 360.5 L808.9 357.6 L811.8 353.2 L811.8 351.0 L804.5 348.9 L799.3 343.7 L795.7 341.5 L792.8 342.2 L789.9 345.1 L784.0 348.0 L778.2 350.2 L778.2 344.4 L778.2 341.2Z" fill="#244999" stroke="#244999"/>
<path d="M824.9 333.1 L830.0 337.2 L833.7 343.5 L836.6 347.1 L837.3 352.9 L829.3 353.9 L824.9 333.1Z" fill="#244999" stroke="#244999"/>
<path d="M757.1 308.0 L760.0 305.6 L766.0 302.9 L815.0 295.7 L821.2 294.4 L826.8 296.9 L831.1 304.3 L828.6 309.6 L827.8 313.9 L831.5 319.0 L834.4 323.4 L830.8 327.8 L826.4 332.1 L824.9 333.1 L778.2 341.2 L763.7 343.7 L760.8 330.6 L757.1 308.0Z" fill="#9E8767" stroke="#9E8767"/>
<path d="M831.1 304.3 L841.6 308.0 L842.9 314.2 L843.9 309.6 L843.1 316.8 L840.9 319.0 L843.9 323.4 L843.1 330.7 L840.2 337.2 L836.6 341.9 L833.7 339.4 L830.0 335.5 L826.7 332.6 L824.9 333.1 L826.4 332.1 L830.8 327.8 L834.4 323.4 L831.5 319.0 L827.8 313.9 L828.6 309.6 L831.1 304.3Z" fill="#244999" stroke="#244999"/>
<path d="M766.0 302.9 L772.7 284.2 L780.1 280.2 L798.8 276.1 L804.2 266.8 L801.5 261.4 L806.9 254.7 L813.5 248.0 L820.0 244.3 L826.2 241.2 L832.4 239.4 L833.0 238.7 L835.4 247.4 L837.9 257.3 L839.8 263.5 L842.2 270.9 L843.5 275.9 L844.1 287.0 L845.3 296.9 L846.6 304.3 L845.3 306.2 L844.5 309.0 L846.7 309.5 L852.1 306.1 L859.6 302.2 L866.8 298.1 L868.5 300.6 L864.0 304.6 L857.7 308.5 L851.5 312.2 L845.7 315.5 L842.9 314.2 L841.6 308.0 L831.1 304.3 L826.8 296.9 L821.2 294.4 L815.0 295.7 L766.0 302.9Z" fill="#244999" stroke="#244999"/>
<path d="M832.4 239.4 L855.3 233.2 L855.3 236.9 L852.8 244.3 L853.4 254.2 L855.2 241.2 L852.1 247.4 L851.5 256.0 L850.9 265.9 L850.9 272.8 L843.5 275.9 L842.2 270.9 L839.8 263.5 L837.9 257.3 L835.4 247.4 L833.0 238.7Z" fill="#244999" stroke="#244999"/>
<path d="M855.3 233.2 L855.9 228.8 L860.2 229.5 L863.3 239.4 L867.0 250.5 L864.5 242.4 L868.2 251.1 L870.7 257.3 L872.6 261.6 L871.9 265.9 L869.5 267.4 L850.9 272.8 L850.9 265.9 L851.5 256.0 L852.1 247.4 L855.2 241.2 L853.4 254.2 L852.8 244.3 L855.3 236.9 L855.3 233.2Z" fill="#244999" stroke="#244999"/>
<path d="M860.2 229.5 L859.6 227.0 L862.1 223.3 L864.0 217.1 L865.2 209.7 L865.8 201.0 L867.7 193.6 L869.5 186.8 L872.0 188.6 L875.7 186.8 L880.7 184.9 L884.4 186.8 L887.5 191.1 L889.3 197.3 L891.8 204.7 L894.3 210.9 L899.2 213.4 L901.7 217.7 L906.7 220.2 L905.4 223.9 L901.7 227.0 L899.2 230.1 L896.8 233.2 L893.0 236.9 L889.3 239.4 L886.9 244.3 L881.9 248.0 L876.9 249.3 L874.5 253.0 L875.1 257.9 L872.6 261.6 L870.7 257.3 L868.2 251.1 L864.5 242.4 L867.0 250.5 L863.3 239.4 L860.2 229.5Z" fill="#244999" stroke="#244999"/>
<path d="M843.5 275.9 L850.9 272.8 L869.5 267.4 L871.9 265.9 L875.0 268.4 L873.2 272.1 L874.4 277.1 L878.1 280.2 L881.9 283.0 L885.6 281.8 L886.5 278.3 L888.3 279.8 L887.8 284.3 L883.7 286.2 L880.6 285.8 L878.1 287.5 L875.7 286.2 L873.2 288.0 L869.5 281.4 L865.1 282.7 L844.1 287.0 L843.5 275.9Z" fill="#244999" stroke="#244999"/>
<path d="M844.1 287.0 L865.1 282.7 L867.0 293.2 L862.0 295.7 L855.9 299.4 L849.7 302.5 L845.3 306.2 L846.6 304.3 L845.3 296.9 L844.1 287.0Z" fill="#244999" stroke="#244999"/>
<path d="M865.1 282.7 L869.5 281.4 L871.9 287.0 L870.7 289.5 L867.0 293.2 L865.1 282.7Z" fill="#244999" stroke="#244999"/>
<path d="M608.2 241.8 L618.0 238.8 L624.0 237.2 L625.5 241.0 L630.0 242.5 L637.4 245.9 L648.6 249.6 L658.5 252.1 L667.1 254.6 L672.1 256.7 L669.6 262.0 L667.1 267.0 L665.3 273.1 L665.9 279.3 L664.6 286.8 L663.6 294.2 L664.4 298.5 L665.3 309.4 L666.7 309.5 L633.0 312.2 L628.5 309.5 L623.2 302.0 L621.8 294.5 L619.5 287.5 L613.5 283.0 L606.0 278.5 L602.2 274.0 L603.0 265.0 L601.5 259.8 L606.0 254.5 L607.5 250.0 L608.2 241.8Z" fill="#9E8767" stroke="#9E8767"/>
<path d="M630.0 242.5 L636.2 238.5 L643.6 233.6 L649.8 228.6 L654.7 225.5 L659.1 225.5 L656.0 229.8 L652.9 234.8 L658.5 235.4 L664.6 238.5 L669.6 241.6 L674.5 239.7 L679.5 237.3 L685.7 236.0 L691.2 234.2 L691.9 237.3 L696.8 239.1 L701.8 241.0 L705.8 244.7 L703.0 246.9 L699.3 245.9 L694.3 246.9 L689.4 246.6 L685.7 249.4 L682.0 250.1 L678.2 251.9 L674.8 255.3 L672.1 256.7 L667.1 254.6 L658.5 252.1 L648.6 249.6 L637.4 245.9Z" fill="#9E8767" stroke="#9E8767"/>
<path d="M680.2 318.8 L683.7 306.8 L682.0 293.4 L679.5 284.3 L680.1 276.9 L682.0 269.4 L684.4 263.2 L688.1 264.5 L690.6 256.4 L691.9 257.7 L694.3 252.1 L696.8 250.3 L701.8 250.9 L706.7 253.3 L711.6 256.4 L715.4 260.8 L716.0 267.0 L714.1 273.1 L711.6 278.1 L711.0 282.4 L714.8 283.7 L717.8 279.3 L721.5 276.2 L725.3 278.1 L728.4 284.3 L730.2 291.7 L730.5 295.1 L727.2 306.8 L723.0 316.1Z" fill="#9E8767" stroke="#9E8767"/>
</g>
<g clip-path="url(#clipNE)">
<path d="M461.2 295 L473.3 295 L517.5 362 L505.4 362Z" fill="#9E8767"/><path d="M505.7 295 L517.8 295 L562.0 362 L549.9 362Z" fill="#9E8767"/>
<path d="M443.5 295 L487.7 362" stroke="#fff" stroke-opacity="0.2" stroke-width="0.8" fill="none"/>
<path d="M450.7 295 L494.9 362" stroke="#fff" stroke-opacity="0.2" stroke-width="0.8" fill="none"/>
<path d="M488.0 295 L532.2 362" stroke="#fff" stroke-opacity="0.2" stroke-width="0.8" fill="none"/>
<path d="M495.2 295 L539.4 362" stroke="#fff" stroke-opacity="0.2" stroke-width="0.8" fill="none"/>
<path d="M532.5 295 L576.7 362" stroke="#fff" stroke-opacity="0.2" stroke-width="0.8" fill="none"/>
<path d="M539.7 295 L583.9 362" stroke="#fff" stroke-opacity="0.2" stroke-width="0.8" fill="none"/>
</g>
<g clip-path="url(#clipME)">
<path d="M852.1 170 L860.1 170 L924.1 270 L916.1 270Z" fill="#D22532"/><path d="M824.2 170 L834.6 170 L895.6 270 L885.2 270Z" fill="#D22532"/>
<path d="M841.2 170 L903.2 270" stroke="#fff" stroke-opacity="0.3" stroke-width="0.7" fill="none"/>
</g>
<g fill="none" stroke="#fff" stroke-width="1.45" stroke-linejoin="round" stroke-linecap="round">
<path d="M327.8 177.8 L318.8 222.8 L318.0 226.5"/>
<path d="M318.0 226.5 L312.3 225.4 L303.6 223.2 L294.8 221.6 L286.1 221.3 L277.4 221.8 L270.8 221.0 L266.5 219.4 L259.9 218.3 L253.4 216.1 L250.6 211.7 L247.9 205.7 L243.6 202.5 L239.2 201.9"/>
<path d="M302.1 291.8 L307.5 268.0 L311.2 258.0 L310.5 252.0 L315.0 247.5 L319.5 240.0 L322.5 233.2 L318.0 226.5"/>
<path d="M266.1 285.1 L302.1 291.8"/>
<path d="M215.1 270.9 L266.1 285.1"/>
<path d="M308.3 415.8 L253.6 333.6 L266.1 285.1"/>
<path d="M299.6 455.3 L302.1 453.6 L300.4 446.9 L303.8 440.2 L307.1 433.6 L311.3 428.5 L309.1 419.3 L308.3 415.8"/>
<path d="M338.9 301.8 L302.1 291.8"/>
<path d="M323.0 386.0 L338.9 301.8"/>
<path d="M308.3 415.8 L310.5 400.9 L315.5 398.7 L319.7 401.1 L323.0 386.0"/>
<path d="M339.3 180.0 L336.0 193.5 L337.5 201.0 L339.8 208.5 L345.0 216.0 L350.2 222.8 L348.0 229.5 L346.5 235.5 L345.0 238.5 L349.5 240.8 L353.2 243.0 L354.8 249.0 L357.8 255.0 L360.0 261.0 L366.0 262.5 L372.0 263.2 L378.0 264.0 L382.2 262.8"/>
<path d="M382.2 262.8 L375.7 307.5"/>
<path d="M375.7 307.5 L338.9 301.8"/>
<path d="M473.2 200.2 L469.5 251.2"/>
<path d="M469.5 251.2 L468.0 265.2"/>
<path d="M468.0 265.2 L384.0 256.8"/>
<path d="M382.2 262.8 L384.0 256.8"/>
<path d="M468.0 265.2 L465.3 301.0"/>
<path d="M465.3 301.0 L462.6 334.4"/>
<path d="M462.6 334.4 L398.6 329.0"/>
<path d="M398.6 329.0 L372.8 324.5 L375.7 307.5"/>
<path d="M398.6 329.0 L389.1 396.2"/>
<path d="M389.1 396.2 L323.0 386.0"/>
<path d="M462.6 334.4 L487.0 337.6 L486.2 354.9"/>
<path d="M486.2 354.9 L482.9 405.9"/>
<path d="M482.9 405.9 L470.3 405.1"/>
<path d="M470.3 405.1 L389.1 396.2"/>
<path d="M389.1 396.2 L376.6 491.3"/>
<path d="M470.3 405.1 L469.5 413.5"/>
<path d="M469.5 413.5 L462.8 488.8 L411.5 485.6 L412.0 487.2"/>
<path d="M550.5 203.5 L552.0 217.0 L553.5 229.0 L555.0 239.5 L555.8 250.0 L555.0 255.2"/>
<path d="M469.5 251.2 L555.0 255.2"/>
<path d="M555.0 255.2 L555.8 262.0 L558.0 268.0 L558.0 293.0 L558.0 296.8"/>
<path d="M558.0 296.8 L556.5 303.5 L557.2 308.8"/>
<path d="M465.3 301.0 L530.5 305.2 L538.9 308.5 L550.6 309.4 L549.0 306.5 L557.2 308.8"/>
<path d="M557.2 308.8 L558.0 309.5 L561.0 317.0 L562.5 324.5 L564.8 333.5 L567.0 341.0 L568.5 347.8"/>
<path d="M568.5 347.8 L572.2 356.4"/>
<path d="M486.2 354.9 L572.2 356.4"/>
<path d="M572.2 356.4 L576.8 360.5 L577.5 366.5 L582.0 371.0 L582.5 408.0"/>
<path d="M482.9 405.9 L582.5 408.0"/>
<path d="M582.5 408.0 L583.2 417.0"/>
<path d="M583.2 417.0 L584.8 435.0 L586.6 438.6 L585.8 465.4 L590.8 466.2"/>
<path d="M590.8 466.2 L585.9 466.0 L581.9 464.6 L577.8 461.9 L575.1 459.9 L571.0 460.6 L567.0 461.2 L562.9 462.6 L558.8 464.6 L554.8 461.2 L552.1 461.2 L548.7 464.6 L546.0 463.9 L542.6 461.2 L539.9 460.6 L537.2 461.9 L533.8 459.2 L530.4 456.5 L527.0 457.2 L523.6 455.1 L519.6 453.8 L517.5 451.1 L515.5 451.8 L512.1 451.1 L508.7 447.7 L509.6 415.1 L469.5 413.5"/>
<path d="M591.7 475.9 L590.8 466.2"/>
<path d="M595.2 532.1 L596.6 523.3 L598.6 512.5 L597.2 504.4 L593.2 493.5 L591.8 480.0 L591.7 475.9"/>
<path d="M608.2 241.8 L607.5 250.0 L606.0 254.5 L601.5 259.8 L603.0 265.0 L602.2 274.0 L606.0 278.5 L613.5 283.0 L619.5 287.5 L621.8 294.5"/>
<path d="M621.8 294.5 L558.0 296.8"/>
<path d="M621.8 294.5 L623.2 302.0 L628.5 309.5 L633.0 312.2"/>
<path d="M633.0 312.2 L636.0 317.0 L636.8 321.5 L633.0 327.5 L627.0 331.2 L625.5 336.5 L627.0 341.0 L622.5 346.2"/>
<path d="M622.5 346.2 L619.5 345.5 L568.5 347.8"/>
<path d="M622.5 346.2 L623.2 354.5 L628.5 362.0 L632.0 366.0 L635.0 372.0 L641.0 375.0 L639.5 381.0 L644.0 388.5 L648.5 391.5 L651.5 397.5 L655.2 403.9"/>
<path d="M655.2 403.9 L656.0 406.5 L654.8 411.8 L651.5 412.5"/>
<path d="M651.5 412.5 L650.0 417.0 L648.5 422.2"/>
<path d="M648.5 422.2 L641.0 423.0 L644.8 418.5 L641.8 414.0 L583.2 417.0"/>
<path d="M648.5 422.2 L647.0 430.5 L645.5 439.1"/>
<path d="M645.5 439.1 L642.5 444.0 L639.5 450.0 L636.5 456.0 L633.5 458.7 L631.8 467.0 L631.8 475.0"/>
<path d="M631.8 475.0 L591.7 475.9"/>
<path d="M631.8 475.0 L633.8 480.0 L635.1 485.4 L631.8 490.8 L629.0 497.6 L627.0 505.1 L627.7 508.7 L653.4 508.4 L654.8 513.9 L656.8 520.6"/>
<path d="M645.5 439.1 L672.5 438.0"/>
<path d="M672.5 438.0 L672.4 480.0 L675.1 517.2"/>
<path d="M672.5 438.0 L707.7 435.0"/>
<path d="M707.7 435.0 L713.1 455.0 L719.6 475.9 L721.6 482.5 L720.3 487.7 L722.3 494.3 L721.6 501.5"/>
<path d="M721.6 501.5 L685.9 506.4 L687.3 515.9"/>
<path d="M707.7 435.0 L724.2 430.8"/>
<path d="M724.2 430.8 L738.0 430.2 L739.3 434.1"/>
<path d="M739.3 434.1 L745.8 440.0 L752.4 446.6 L758.9 454.4 L765.5 461.0 L773.3 468.8 L780.5 474.8"/>
<path d="M768.2 501.0 L768.1 501.5 L767.4 506.1 L765.5 506.7 L764.2 504.1 L725.5 505.4 L721.6 501.5"/>
<path d="M739.3 434.1 L748.5 426.9 L755.0 424.9 L762.9 424.3 L772.0 425.6 L785.1 426.9 L794.3 430.8 L800.8 435.4 L806.1 439.4"/>
<path d="M724.2 430.8 L727.5 425.6 L734.0 420.4 L740.6 416.4 L747.1 412.5 L752.4 407.3 L756.3 400.7"/>
<path d="M756.3 400.7 L832.3 387.6"/>
<path d="M654.8 411.8 L671.7 410.7 L672.2 408.8 L733.7 403.3"/>
<path d="M733.7 403.3 L756.3 400.7"/>
<path d="M655.2 403.9 L659.0 401.2 L663.5 400.5 L665.0 396.8 L668.0 395.2 L669.5 388.5"/>
<path d="M669.5 388.5 L675.5 387.0 L680.0 388.5 L686.0 385.5 L690.5 382.5 L695.0 379.5 L701.0 375.0 L704.0 370.5 L710.0 368.2 L710.0 363.0"/>
<path d="M710.0 363.0 L717.1 365.4 L723.9 368.8 L729.4 368.0 L734.5 366.2 L738.1 369.5 L740.6 371.6"/>
<path d="M740.6 371.6 L740.6 374.6 L743.2 378.9 L746.8 383.3 L749.8 385.8"/>
<path d="M749.8 385.8 L746.8 389.8 L741.7 394.9 L737.4 400.8 L733.7 403.3"/>
<path d="M633.0 312.2 L666.7 309.5"/>
<path d="M672.0 323.8 L673.5 350.0 L675.0 374.0 L672.0 381.5 L669.0 386.0 L669.5 388.5"/>
<path d="M705.0 317.8 L710.2 363.5"/>
<path d="M757.1 308.0 L760.8 330.6"/>
<path d="M760.8 330.6 L759.3 340.8 L757.1 349.5 L750.6 355.3 L746.2 359.7 L746.8 360.0 L745.4 362.9 L743.2 367.3 L740.6 371.6"/>
<path d="M760.8 330.6 L763.7 343.7 L778.2 341.2"/>
<path d="M778.2 341.2 L778.2 344.4 L778.2 350.2 L784.0 348.0 L789.9 345.1 L792.8 342.2 L795.7 341.5 L799.3 343.7"/>
<path d="M799.3 343.7 L798.6 346.6 L794.2 345.1 L791.3 348.8 L787.0 353.9 L784.0 358.2 L783.2 360.0 L781.8 362.9 L778.1 363.6 L776.0 368.7 L773.8 374.6 L772.3 380.4 L769.4 382.6 L764.3 385.5 L759.2 388.0 L755.6 390.2 L751.9 388.4 L749.8 385.8"/>
<path d="M799.3 343.7 L804.5 348.9 L811.8 351.0 L811.8 353.2 L808.9 357.6 L814.0 360.5 L819.1 363.4 L823.2 363.4"/>
<path d="M824.9 333.1 L778.2 341.2"/>
<path d="M824.9 333.1 L829.3 353.9 L837.3 352.9"/>
<path d="M766.0 302.9 L815.0 295.7 L821.2 294.4 L826.8 296.9 L831.1 304.3"/>
<path d="M831.1 304.3 L828.6 309.6 L827.8 313.9 L831.5 319.0 L834.4 323.4 L830.8 327.8 L826.4 332.1 L824.9 333.1"/>
<path d="M842.9 314.2 L841.6 308.0 L831.1 304.3"/>
<path d="M833.0 238.7 L835.4 247.4 L837.9 257.3 L839.8 263.5 L842.2 270.9 L843.5 275.9"/>
<path d="M843.5 275.9 L844.1 287.0"/>
<path d="M844.1 287.0 L845.3 296.9 L846.6 304.3 L845.3 306.2"/>
<path d="M855.3 233.2 L855.3 236.9 L852.8 244.3 L853.4 254.2 L855.2 241.2 L852.1 247.4 L851.5 256.0 L850.9 265.9 L850.9 272.8"/>
<path d="M850.9 272.8 L843.5 275.9"/>
<path d="M860.2 229.5 L863.3 239.4 L867.0 250.5 L864.5 242.4 L868.2 251.1 L870.7 257.3 L872.6 261.6"/>
<path d="M871.9 265.9 L869.5 267.4 L850.9 272.8"/>
<path d="M869.5 281.4 L865.1 282.7"/>
<path d="M865.1 282.7 L844.1 287.0"/>
<path d="M865.1 282.7 L867.0 293.2"/>
<path d="M630.0 242.5 L637.4 245.9 L648.6 249.6 L658.5 252.1 L667.1 254.6 L672.1 256.7"/>
<path d="M680.2 318.8 L705.0 317.8"/>
<path d="M705.0 317.8 L723.0 316.1"/>
<path d="M836.9 359.8 L828.6 364.9"/>
</g>
<path d="M263.2 169.2 L266.2 173.6 L265.4 178.5 L263.2 183.4 L261.0 187.7 L257.7 191.6" fill="none" stroke="#fff" stroke-width="1.6" stroke-linecap="round"/>
<path d="M821.0 336.9 L818.5 343.8 L819.0 351.0 L821.6 357.6 L824.4 362.2 L826.4 365.1" fill="none" stroke="#fff" stroke-width="1.5" stroke-linecap="round" stroke-linejoin="round"/>
<path d="M671.1 258.1 L667.1 264.5 L662.4 272.2" fill="none" stroke="#fff" stroke-width="1.3" stroke-linecap="round"/>
<path d="M880.0 289.0 L882.5 288.5 L882.8 289.7 L880.4 290.1Z" fill="#244999"/>
<path d="M884.9 289.2 L889.3 288.5 L889.8 289.6 L885.6 290.2Z" fill="#244999"/>
<path d="M825.1 398.1 L829.6 397.4 L833.6 396.1 L836.9 398.8" fill="none" stroke="#fff" stroke-width="1.1" stroke-linecap="round"/>
<path d="M831.0 400.7 L832.3 404.6" fill="none" stroke="#fff" stroke-width="0.9" stroke-linecap="round"/>
<path d="M827.7 409.2 L831.6 411.2 L832.5 415.8" fill="none" stroke="#fff" stroke-width="1.1" stroke-linecap="round"/>
<path d="M825.7 415.8 L829.6 417.1" fill="none" stroke="#fff" stroke-width="0.9" stroke-linecap="round"/>
<path d="M216.4 341.1 L219.8 343.3 L218.7 348.7 L217.4 345.3Z" fill="#fff"/>
<path d="M798.7 592.5 L803.7 591.1 L804.2 591.8 L799.3 593.3Z" fill="#D22532"/>
<path d="M237.1 512.0 L244.3 506.8 L250.8 502.9 L257.4 500.2 L260.0 501.6 L266.6 503.5 L273.1 504.8 L281.0 505.5 L288.8 504.2 L290.8 506.8 L294.1 525.1 L298.0 544.8 L300.6 559.2 L305.3 560.4 L308.8 563.3 L314.7 566.2 L317.0 561.0 L321.7 563.3 L327.5 569.2 L333.3 573.8 L340.3 576.2 L341.5 580.8 L337.4 585.3 L331.6 584.1 L324.6 579.1 L317.6 573.8 L311.2 568.6 L306.5 565.1 L304.2 562.8 L298.3 562.8 L293.7 562.8 L286.7 561.6 L280.8 561.0 L279.7 564.5 L277.3 568.0 L275.0 564.5 L271.5 560.4 L268.6 565.7 L265.7 570.3 L268.0 574.4 L263.3 579.7 L257.5 584.9 L249.3 589.0 L240.0 592.5 L228.3 596.6 L216.7 600.1 L210.8 601.8 L210.2 600.7 L219.0 597.2 L229.5 593.1 L238.8 589.0 L245.8 584.9 L249.3 580.2 L244.7 575.0 L240.0 570.9 L241.2 563.3 L241.2 557.5 L238.8 550.5 L234.2 547.0 L237.7 544.8 L243.0 540.8 L245.6 537.6 L239.1 535.6 L233.2 534.3 L231.2 531.0 L230.5 527.7 L237.7 525.8 L244.3 525.1 L243.0 521.2 L237.7 517.3Z" fill="#FF8B98"/>
<path d="M217.4 538.2 L220.7 539.5 L223.6 542.1 L220.4 541.1Z" fill="#FF8B98"/>
<path d="M319.92 566.25 L337.42 580.25" stroke="#fff" stroke-opacity="0.45" stroke-width="0.7" fill="none"/>
<path d="M317.01 569.17 L333.34 582.59" stroke="#fff" stroke-opacity="0.45" stroke-width="0.7" fill="none"/>
<path d="M353.1 552.2 L355.6 549.9 L356.5 551.1 L354.0 553.2Z" fill="#244999"/>
<path d="M360.3 548.2 L364.9 546.0 L368.2 547.7 L367.4 551.1 L363.2 551.6Z" fill="#244999"/>
<path d="M384.9 557.3 L388.3 555.6 L390.8 558.6 L393.3 560.6 L391.6 562.3 L387.4 561.6Z" fill="#244999"/>
<path d="M422.5 579.9 L428.3 581.8 L434.7 585.6 L439.5 592.0 L436.0 595.9 L430.9 597.8 L426.4 601.9 L423.2 599.7 L422.5 594.6 L420.6 589.5 L420.0 587.5 L422.5 584.3Z" fill="#244999"/>
<path d="M409.4 567.0 L414.2 568.3 L420.6 570.2 L420.3 572.8 L414.9 574.0 L412.9 570.9 L410.0 569.3Z" fill="#244999"/>
<path d="M400.1 564.0 L404.6 563.8 L408.4 565.0 L404.6 565.4Z" fill="#244999"/>
<path d="M404.3 568.6 L406.8 569.0 L407.0 571.0 L404.6 570.9Z" fill="#244999"/>
<path d="M228.8 416.0 L231.8 416.8 L231.0 418.2Z" fill="#244999"/>
<path d="M234.0 417.1 L237.2 418.2 L235.5 419.0Z" fill="#244999"/>
<path d="M234.8 430.5 L237.2 431.6 L235.8 432.2Z" fill="#244999"/>
<path d="M249.0 431.6 L251.6 433.2 L250.2 433.9Z" fill="#244999"/>
<path d="M247.4 440.2 L249.4 441.6 L248.0 442.6Z" fill="#244999"/>
<path d="M641.0 218.9 L649.4 214.1 L650.2 214.9 L642.2 219.6Z" fill="#9E8767"/>
<g class="lbl" transform="rotate(0.03 550 380)">
<text x="285.9" y="194.4">WA</text><text x="285.9" y="204.0">12</text>
<text x="267.5" y="250.5">OR</text><text x="267.5" y="260.1">7</text>
<text x="244" y="361.9">CA</text><text x="244" y="371.5">55</text>
<text x="297.8" y="335">NV</text><text x="297.8" y="344.6">6</text>
<text x="335" y="259.9">ID</text><text x="335" y="269.5">4</text>
<text x="406" y="220">MT</text><text x="406" y="229.6">3</text>
<text x="422" y="292.3">WY</text><text x="422" y="301.9">3</text>
<text x="360.9" y="349.9">UT</text><text x="360.9" y="359.5">6</text>
<text x="439" y="363.4">CO</text><text x="439" y="373.0">9</text>
<text x="346.5" y="433">AZ</text><text x="346.5" y="442.6">11</text>
<text x="423.1" y="440.9">NM</text><text x="423.1" y="450.5">5</text>
<text x="512" y="226.1">ND</text><text x="512" y="235.7">3</text>
<text x="513.2" y="277.6">SD</text><text x="513.2" y="287.2">3</text>
<text x="516.5" y="330.6">NE</text><text x="516.5" y="340.2">5</text>
<text x="532.8" y="381.5">KS</text><text x="532.8" y="391.1">6</text>
<text x="543" y="432.3">OK</text><text x="543" y="441.9">7</text>
<text x="516.2" y="497.3">TX</text><text x="516.2" y="506.9">38</text>
<text x="579.6" y="245">MN</text><text x="579.6" y="254.6">10</text>
<text x="595.1" y="321.2">IA</text><text x="595.1" y="330.8">6</text>
<text x="606.5" y="379.2">MO</text><text x="606.5" y="388.8">10</text>
<text x="613.4" y="443.2">AR</text><text x="613.4" y="452.8">6</text>
<text x="613.5" y="504.1">LA</text><text x="613.5" y="513.7">8</text>
<text x="654.5" y="473.7">MS</text><text x="654.5" y="483.3">6</text>
<text x="693.8" y="469.5">AL</text><text x="693.8" y="479.1">9</text>
<text x="740.5" y="467">GA</text><text x="740.5" y="476.6">16</text>
<text x="775.5" y="531.7">FL</text><text x="775.5" y="541.3">29</text>
<text x="778.2" y="446.3">SC</text><text x="778.2" y="455.9">9</text>
<text x="799.5" y="413.3">NC</text><text x="799.5" y="422.9">15</text>
<text x="695.5" y="420.5">TN</text><text x="695.5" y="430.1">11</text>
<text x="715.2" y="389.9">KY</text><text x="715.2" y="399.5">8</text>
<text x="651.5" y="348.6">IL</text><text x="651.5" y="358.2">20</text>
<text x="690" y="347.7">IN</text><text x="690" y="357.3">11</text>
<text x="733.3" y="340.2">OH</text><text x="733.3" y="349.8">18</text>
<text x="763.1" y="367.7">WV</text><text x="763.1" y="377.3">5</text>
<text x="796.3" y="374.8">VA</text><text x="796.3" y="384.4">13</text>
<text x="794.3" y="318.1">PA</text><text x="794.3" y="327.7">20</text>
<text x="820.4" y="275.6">NY</text><text x="820.4" y="285.2">29</text>
<text x="843.2" y="248.1">VT</text><text x="843.2" y="257.7">3</text>
<text x="859.2" y="258.8">NH</text><text x="859.2" y="268.4">4</text>
<text x="879.2" y="220.2">ME</text><text x="879.2" y="229.8">4</text>
<text x="636.2" y="274.5">WI</text><text x="636.2" y="284.1">10</text>
<text x="696.8" y="284.6">MI</text><text x="696.8" y="294.2">16</text>
<text x="267.6" y="538.3">AK</text><text x="267.6" y="547.9">3</text>
</g>
<g transform="rotate(0.03 411 590)" stroke="#111" stroke-width="0.4"><text x="411.3" y="588" class="b" font-size="9.6" fill="#111" text-anchor="middle">HI</text><text x="411.3" y="597.6" class="b" font-size="9.6" fill="#111" text-anchor="middle">4</text></g>
<circle cx="813.7" cy="492.5" r="37.7" fill="#fff"/>
<text x="788.6" y="497.1" class="b" font-size="30.2" fill="#1f4f8f" stroke="#1f4f8f" stroke-width="2.3" stroke-linejoin="round" textLength="42" lengthAdjust="spacingAndGlyphs">270</text>
<text x="802.1" y="512.7" font-size="16.2" fill="#b9274a" stroke="#b9274a" stroke-width="0.7" textLength="28.6" lengthAdjust="spacingAndGlyphs">WIN</text>
<text transform="translate(799.3,513.3) rotate(-90)" font-size="15" fill="#6d7783" stroke="#6d7783" stroke-width="1.1" class="b" textLength="10.3" lengthAdjust="spacingAndGlyphs">TO</text>
<text x="263.8" y="325.1" class="ann" textLength="38" lengthAdjust="spacingAndGlyphs">Fraud</text>
<text x="312.4" y="433.6" class="ann" textLength="24.9" lengthAdjust="spacingAndGlyphs">Still</text>
<text x="313.1" y="475.1" class="ann" textLength="62.2" lengthAdjust="spacingAndGlyphs">Counting</text>
<text x="473.3" y="325.4" class="ann" textLength="88" lengthAdjust="spacingAndGlyphs">Investigation</text>
<text x="614.3" y="260.5" class="ann" textLength="55.5" lengthAdjust="spacingAndGlyphs">Recount</text>
<text x="772" y="334.7" class="ann" textLength="36.7" lengthAdjust="spacingAndGlyphs">Audit</text>
<text x="766.1" y="409.9" class="ann" textLength="24.9" lengthAdjust="spacingAndGlyphs">Still</text>
<text x="766.8" y="430.8" class="ann" textLength="61.5" lengthAdjust="spacingAndGlyphs">Counting</text>
<text x="725.5" y="498" class="ann" textLength="56.3" lengthAdjust="spacingAndGlyphs">Recount</text>
<text x="216.8" y="563.8" class="ann" textLength="24.2" lengthAdjust="spacingAndGlyphs">Still</text>
<text x="217.2" y="584.4" class="ann" textLength="61.5" lengthAdjust="spacingAndGlyphs">Counting</text>
<text class="ann" transform="translate(682,214.2) rotate(48.8)" textLength="87.5" lengthAdjust="spacingAndGlyphs">Glitch/Fraud</text>
</svg></body></html>
